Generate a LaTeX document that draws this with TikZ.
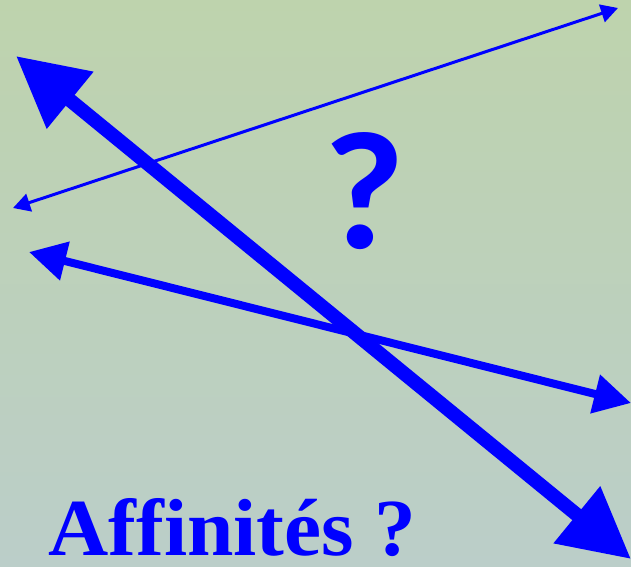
\documentclass[tikz,border=0pt]{standalone}
\usepackage{fontspec}
\usetikzlibrary{arrows.meta}
\newfontfamily\qfont{Carlito}
\newfontfamily\afont{Liberation Serif}
\definecolor{arrowblue}{RGB}{0,0,255}
\definecolor{bgtop}{RGB}{190,211,173}
\definecolor{bgbot}{RGB}{187,206,201}
\begin{document}
\begin{tikzpicture}[x=1pt,y=-1pt,
  dbl/.style={draw=arrowblue, line join=miter},
  thinarrow/.style={dbl, line width=3pt, {Triangle[length=17pt,width=18pt]}-{Triangle[length=17pt,width=18pt]}},
  medarrow/.style={dbl, line width=8pt, {Triangle[length=37pt,width=38pt]}-{Triangle[length=37pt,width=38pt]}},
  thickarrow/.style={dbl, line width=14pt, {Triangle[length=70pt,width=70pt]}-{Triangle[length=70pt,width=70pt]}},
  lbl/.style={text=arrowblue, inner sep=0pt}
]
\useasboundingbox (0,0) rectangle (631,566);
\shade[top color=bgtop, bottom color=bgbot] (0,0) rectangle (631,566);
% coordinates
\coordinate (t1) at (13,208);
\coordinate (t2) at (618,8);
\coordinate (m1) at (29,252);
\coordinate (m2) at (631,403);
\coordinate (k1) at (16,56);
\coordinate (k2) at (631,559);
\draw[thinarrow] (t1) -- (t2);
\draw[medarrow] (m1) -- (m2);
\draw[thickarrow] (k1) -- (k2);
\node[lbl, anchor=base, xscale=1.05] (q) at (364,248) {\fontsize{168}{168}\qfont\bfseries ?};
\node[lbl, anchor=base west, xscale=1.03] (aff) at (48,555) {\fontsize{81}{81}\afont\bfseries Affinités ?};
\end{tikzpicture}
\end{document}
